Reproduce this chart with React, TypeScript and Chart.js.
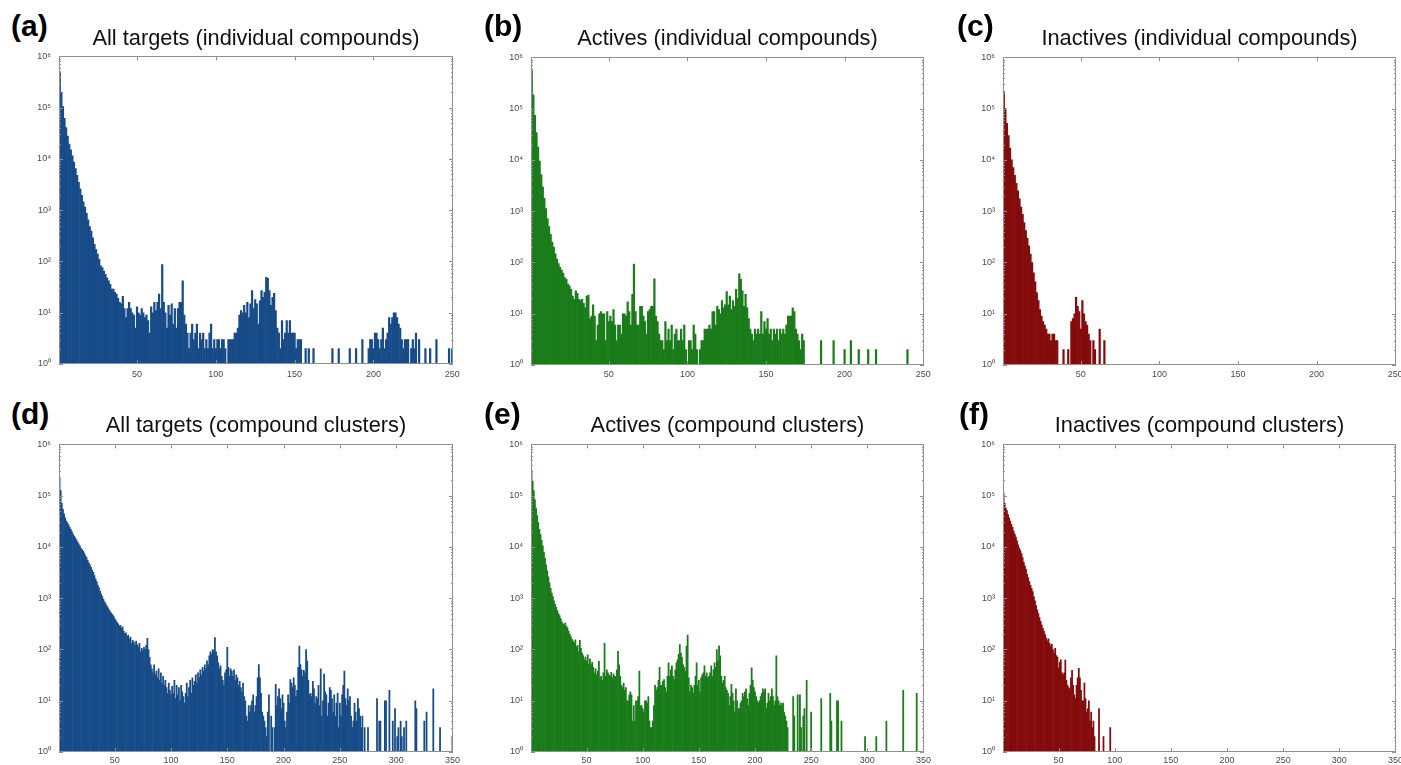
import React, { useEffect, useRef } from 'react';
import { Chart, registerables } from 'chart.js';

Chart.register(...registerables);

// ---------------- DATA (counts per integer bin, starting at bin 1) ----------------
const allIndividual = [
  500000, 200000, 105000, 62000, 41000, 28000, 19500, 15000, 11500, 8700,
  6500, 4800, 3500, 2600, 1950, 1450, 1150, 870, 650, 480,
  390, 290, 215, 170, 140, 110, 82, 76, 65, 56,
  48, 42, 36, 29, 29, 25, 23, 19, 16, 15,
  21, 12, 8, 12, 16, 12, 10, 9, 5, 13,
  10, 9, 12, 10, 8, 9, 7, 4, 13, 10,
  16, 11, 16, 23, 12, 87, 16, 10, 5, 14,
  9, 15, 6, 12, 5, 12, 16, 16, 42, 9,
  6, 4, 2, 4, 6, 3, 4, 6, 2, 4,
  3, 4, 2, 3, 2, 4, 6, 2, 3, 2,
  3, 3, 2, 3, 3, 2, 1, 3, 3, 3,
  3, 4, 4, 5, 9, 11, 10, 14, 10, 16,
  8, 15, 27, 12, 18, 15, 6, 17, 27, 20,
  25, 49, 47, 27, 14, 20, 24, 11, 5, 4,
  2, 7, 3, 4, 7, 4, 7, 4, 4, 4,
  2, 3, 3, 3, 0, 0, 2, 0, 2, 0,
  0, 2, 0, 0, 0, 0, 0, 0, 0, 0,
  0, 0, 0, 2, 0, 0, 0, 2, 0, 0,
  0, 0, 0, 0, 2, 0, 0, 0, 2, 0,
  0, 0, 3, 0, 0, 0, 2, 3, 3, 2,
  4, 4, 3, 2, 3, 5, 2, 3, 4, 8,
  6, 8, 10, 10, 8, 6, 5, 3, 2, 3,
  3, 3, 0, 2, 3, 2, 4, 0, 3, 0,
  0, 0, 2, 0, 0, 2, 0, 0, 0, 3,
  0, 0, 0, 0, 0, 0, 0, 2, 0, 2,
];

const activesIndividual = [
  550000, 186000, 74000, 34000, 17800, 9500, 5200, 2950, 1780, 1120,
  720, 500, 355, 250, 200, 148, 117, 95, 80, 71,
  62, 51, 47, 38, 35, 30, 22, 19, 28, 25,
  19, 18, 19, 16, 13, 22, 23, 8, 9, 15,
  9, 3, 6, 10, 11, 10, 10, 3, 11, 7,
  9, 7, 12, 6, 3, 6, 6, 4, 10, 10,
  9, 17, 11, 6, 24, 93, 11, 6, 6, 14,
  14, 9, 7, 4, 11, 12, 14, 14, 48, 9,
  7, 4, 3, 3, 2, 7, 3, 5, 3, 6,
  2, 4, 5, 3, 3, 5, 3, 6, 2, 1,
  3, 3, 2, 6, 4, 2, 1, 2, 3, 3,
  5, 5, 5, 6, 5, 11, 11, 6, 14, 12,
  10, 18, 13, 15, 27, 15, 22, 12, 18, 14,
  30, 20, 60, 47, 28, 14, 24, 13, 8, 5,
  4, 3, 5, 4, 5, 4, 11, 4, 7, 5,
  8, 4, 5, 3, 5, 4, 5, 3, 5, 4,
  5, 4, 6, 9, 9, 9, 13, 11, 5, 4,
  3, 2, 4, 3, 0, 0, 0, 0, 0, 0,
  0, 0, 0, 0, 3, 0, 0, 0, 0, 0,
  0, 0, 3, 0, 0, 0, 0, 0, 0, 2,
  0, 0, 0, 3, 0, 0, 0, 0, 2, 0,
  0, 0, 0, 0, 2, 0, 0, 0, 0, 2,
  0, 0, 0, 0, 0, 0, 0, 0, 0, 0,
  0, 0, 0, 0, 0, 0, 0, 0, 0, 2,
  0, 0, 0, 0, 0, 0, 0, 0, 0, 0,
];

const inactivesIndividual = [
  214000, 100000, 52000, 30000, 17000, 10000, 7100, 5000, 3500, 2500,
  1740, 1200, 870, 600, 420, 295, 210, 145, 100, 63,
  42, 26, 18, 12, 9, 7, 6, 5, 4, 4,
  3, 4, 4, 3, 3, 0, 0, 0, 2, 0,
  0, 2, 0, 7, 8, 10, 21, 14, 11, 5,
  18, 10, 7, 6, 4, 3, 0, 3, 2, 0,
  0, 5, 0, 0, 3,
];

const allClusters = [
  230000, 126000, 71000, 54000, 44000, 37000, 32000, 29500, 27000, 24000,
  22000, 20000, 17800, 16200, 15100, 13800, 12600, 11500, 10500, 9500,
  8900, 8300, 7600, 6800, 6200, 5500, 4900, 4500, 4000, 3550,
  3200, 2750, 2400, 2100, 1800, 1600, 1380, 1200, 1070, 950,
  850, 780, 710, 650, 590, 550, 510, 480, 450, 400,
  370, 340, 315, 290, 295, 265, 275, 225, 200, 210,
  180, 190, 160, 175, 130, 150, 140, 120, 145, 125,
  112, 132, 90, 105, 95, 110, 100, 120, 165, 100,
  70, 50, 42, 35, 50, 32, 38, 28, 42, 25,
  35, 22, 30, 20, 25, 18, 14, 22, 16, 13,
  19, 14, 25, 11, 20, 13, 18, 10, 20, 15,
  12, 9, 14, 22, 12, 18, 25, 14, 28, 20,
  24, 32, 22, 35, 28, 40, 32, 45, 38, 50,
  42, 60, 50, 75, 90, 80, 100, 95, 170, 90,
  75, 55, 42, 48, 30, 25, 20, 35, 40, 110,
  45, 30, 42, 38, 30, 40, 25, 32, 28, 20,
  24, 18, 15, 22, 12, 10, 5, 4, 8, 6,
  8, 10, 13, 6, 8, 12, 28, 51, 28, 14,
  6, 5, 4, 3, 2, 6, 13, 0, 5, 3,
  0, 3, 21, 8, 12, 17, 11, 7, 13, 9,
  4, 3, 6, 13, 9, 26, 22, 18, 28, 20,
  12, 16, 45, 117, 51, 40, 30, 39, 35, 100,
  60, 25, 13, 14, 12, 24, 17, 9, 12, 11,
  20, 8, 42, 5, 10, 33, 15, 13, 5, 9,
  18, 16, 11, 6, 13, 5, 9, 14, 3, 9,
  5, 13, 20, 38, 11, 8, 17, 10, 12, 5,
  3, 4, 9, 6, 4, 11, 7, 5, 3, 5,
  0, 3, 0, 0, 3, 0, 0, 0, 0, 0,
  0, 0, 11, 0, 4, 4, 0, 0, 0, 10,
  10, 0, 0, 16, 0, 0, 4, 0, 7, 0,
  2, 3, 0, 4, 2, 0, 3, 0, 4, 0,
  0, 0, 0, 0, 0, 0, 10, 7, 0, 0,
  0, 0, 0, 0, 4, 0, 6, 0, 0, 0,
  0, 0, 17, 0, 0, 0, 0, 0, 3, 0,
  0, 0, 0, 0, 0, 0, 0, 0, 0, 2,
];

const activesClusters = [
  310000, 190000, 126000, 83000, 57000, 41000, 30000, 22000, 17400, 13500,
  10500, 7900, 6000, 4500, 3400, 2600, 2000, 1550, 1260, 1070,
  890, 760, 660, 575, 500, 457, 400, 347, 316, 302,
  331, 282, 263, 229, 200, 178, 158, 145, 132, 155,
  112, 120, 91, 151, 105, 85, 76, 63, 71, 60,
  79, 52, 66, 50, 56, 45, 35, 42, 32, 38,
  59, 28, 30, 25, 35, 132, 30, 40, 35, 32,
  30, 36, 28, 33, 30, 30, 40, 92, 50, 30,
  20, 18, 22, 16, 18, 10, 10, 13, 15, 13,
  4, 8, 4, 10, 10, 12, 38, 8, 8, 7,
  6, 10, 10, 9, 12, 4, 3, 3, 4, 8,
  20, 16, 18, 25, 45, 20, 20, 24, 26, 18,
  15, 30, 55, 30, 40, 48, 30, 26, 40, 55,
  63, 80, 125, 85, 70, 50, 45, 38, 115, 190,
  28, 15, 20, 18, 14, 20, 30, 55, 20, 25,
  15, 28, 32, 35, 48, 30, 35, 28, 30, 35,
  48, 30, 40, 55, 45, 100, 60, 118, 75, 30,
  22, 25, 30, 18, 16, 14, 8, 12, 21, 14,
  10, 6, 17, 10, 7, 7, 9, 10, 14, 12,
  15, 17, 11, 8, 14, 20, 44, 25, 18, 15,
  12, 10, 9, 10, 12, 14, 17, 15, 17, 7,
  9, 14, 10, 12, 17, 12, 8, 10, 75, 12,
  10, 8, 9, 8, 9, 6, 5, 4, 3, 0,
  0, 0, 0, 12, 5, 0, 0, 13, 0, 13,
  3, 0, 5, 7, 0, 25, 0, 0, 0, 6,
  0, 0, 0, 0, 0, 0, 0, 0, 11, 0,
  0, 0, 0, 0, 0, 0, 14, 4, 0, 0,
  0, 0, 10, 10, 0, 0, 4, 0, 0, 0,
  0, 0, 0, 0, 0, 0, 0, 0, 0, 0,
  0, 0, 0, 0, 0, 0, 0, 2, 0, 0,
  0, 0, 0, 0, 0, 0, 0, 2, 0, 0,
  0, 0, 0, 0, 0, 0, 4, 0, 0, 0,
  0, 0, 0, 0, 0, 0, 0, 0, 0, 0,
  0, 16, 0, 0, 0, 0, 0, 0, 0, 0,
  0, 0, 0, 14, 0, 0, 0, 0, 0, 0,
];

const inactivesClusters = [
  112000, 71000, 57000, 51000, 43000, 37000, 32000, 27500, 24000, 20400,
  17800, 15500, 13200, 11000, 9500, 8500, 7400, 6200, 5000, 4300,
  3700, 2950, 2500, 2100, 1780, 1550, 1350, 1070, 890, 720,
  590, 500, 417, 355, 302, 257, 229, 195, 166, 148,
  162, 132, 117, 126, 100, 85, 105, 76, 71, 44,
  56, 63, 35, 32, 35, 62, 25, 20, 18, 17,
  28, 39, 20, 13, 11, 20, 28, 43, 28, 16,
  10, 10, 22, 11, 6, 7, 10, 4, 6, 3,
  4, 2, 0, 0, 0, 7, 0, 0, 0, 2,
  0, 0, 0, 0, 0, 3, 0,
];

const Y_TICKS = [1, 10, 100, 1000, 10000, 100000, 1000000];
const X_TICKS_INDIVIDUAL = [50, 100, 150, 200, 250];
const X_TICKS_CLUSTERS = [50, 100, 150, 200, 250, 300, 350];
const SUPERSCRIPTS = ['⁰', '¹', '²', '³', '⁴', '⁵', '⁶'];

// ---------------- STYLE / LAYOUT ----------------
const FONT = "'Liberation Sans', Arial, Helvetica, sans-serif";
const BLUE = '#184c88';
const GREEN = '#1a7c1a';
const RED = '#850c0c';
const AXIS_COLOR = '#8f8f8f';
const Y_AXIS_W = 45;
const X_AXIS_H = 22;
const PAD_T = 10;
const PAD_R = 14;

type Box = { left: number; top: number; right: number; bottom: number };
type PanelDef = {
  id: string;
  label: string;
  title: string;
  counts: number[];
  color: string;
  xMax: number;
  xTicks: number[];
  box: Box;
  labelX: number;
  labelBaseline: number;
  titleBaseline: number;
  xLabelPad: number;
};

const ROW1 = { top: 53, bottom: 364, label: 36, title: 45.5, pad: 5 };
const ROW2 = { top: 441, bottom: 752, label: 424, title: 432, pad: 3 };

const PANELS: PanelDef[] = [
  { id: 'a', label: '(a)', title: 'All targets (individual compounds)', counts: allIndividual, color: BLUE, xMax: 250, xTicks: X_TICKS_INDIVIDUAL,
    box: { left: 59, top: ROW1.top, right: 453, bottom: ROW1.bottom }, labelX: 11, labelBaseline: ROW1.label, titleBaseline: ROW1.title, xLabelPad: ROW1.pad },
  { id: 'b', label: '(b)', title: 'Actives (individual compounds)', counts: activesIndividual, color: GREEN, xMax: 250, xTicks: X_TICKS_INDIVIDUAL,
    box: { left: 531, top: ROW1.top + 1, right: 924, bottom: ROW1.bottom + 1 }, labelX: 484, labelBaseline: ROW1.label, titleBaseline: ROW1.title, xLabelPad: ROW1.pad - 1 },
  { id: 'c', label: '(c)', title: 'Inactives (individual compounds)', counts: inactivesIndividual, color: RED, xMax: 250, xTicks: X_TICKS_INDIVIDUAL,
    box: { left: 1003, top: ROW1.top + 1, right: 1396, bottom: ROW1.bottom + 1 }, labelX: 957, labelBaseline: ROW1.label, titleBaseline: ROW1.title, xLabelPad: ROW1.pad - 1 },
  { id: 'd', label: '(d)', title: 'All targets (compound clusters)', counts: allClusters, color: BLUE, xMax: 350, xTicks: X_TICKS_CLUSTERS,
    box: { left: 59, top: ROW2.top, right: 453, bottom: ROW2.bottom }, labelX: 11, labelBaseline: ROW2.label, titleBaseline: ROW2.title, xLabelPad: ROW2.pad },
  { id: 'e', label: '(e)', title: 'Actives (compound clusters)', counts: activesClusters, color: GREEN, xMax: 350, xTicks: X_TICKS_CLUSTERS,
    box: { left: 531, top: ROW2.top, right: 924, bottom: ROW2.bottom }, labelX: 484, labelBaseline: ROW2.label, titleBaseline: ROW2.title, xLabelPad: ROW2.pad },
  { id: 'f', label: '(f)', title: 'Inactives (compound clusters)', counts: inactivesClusters, color: RED, xMax: 350, xTicks: X_TICKS_CLUSTERS,
    box: { left: 1003, top: ROW2.top, right: 1396, bottom: ROW2.bottom }, labelX: 959, labelBaseline: ROW2.label, titleBaseline: ROW2.title, xLabelPad: ROW2.pad },
];

// Draws the MATLAB-like box with inward ticks on all four sides.
const framePlugin = {
  id: 'matlabFrame',
  afterDatasetsDraw(chart: any) {
    const { ctx, chartArea: a, scales } = chart;
    const xs = scales.x;
    const ys = scales.y;
    ctx.save();
    ctx.strokeStyle = AXIS_COLOR;
    ctx.lineWidth = 1;
    ctx.beginPath();
    for (const t of xs.ticks) {
      const px = Math.round(xs.getPixelForValue(t.value)) + 0.5;
      if (px < a.left || px > a.right) continue;
      ctx.moveTo(px, a.bottom);
      ctx.lineTo(px, a.bottom - 4);
      ctx.moveTo(px, a.top);
      ctx.lineTo(px, a.top + 4);
    }
    for (let k = 0; k <= 6; k++) {
      for (let m = 1; m <= 9; m++) {
        if (k === 6 && m > 1) break;
        const v = m * Math.pow(10, k);
        const py = Math.round(ys.getPixelForValue(v)) + 0.5;
        const len = m === 1 ? 4 : 2;
        ctx.moveTo(a.left, py);
        ctx.lineTo(a.left + len, py);
        ctx.moveTo(a.right, py);
        ctx.lineTo(a.right - len, py);
      }
    }
    ctx.stroke();
    ctx.strokeRect(Math.round(a.left) + 0.5, Math.round(a.top) + 0.5,
      Math.round(a.right - a.left) - 1, Math.round(a.bottom - a.top) - 1);
    ctx.restore();
  },
};

function Panel({ p }: { p: PanelDef }) {
  const ref = useRef<HTMLCanvasElement | null>(null);
  const plotW = p.box.right - p.box.left;
  const plotH = p.box.bottom - p.box.top;
  const cw = Y_AXIS_W + plotW + PAD_R;
  const chH = PAD_T + plotH + X_AXIS_H;

  useEffect(() => {
    const canvas = ref.current;
    if (!canvas) return;
    const data = p.counts.map((v, i) => ({ x: i + 1, y: v > 0 ? v : null }));
    const chart = new Chart(canvas, {
      type: 'bar',
      data: {
        datasets: [{
          data: data as any,
          backgroundColor: p.color,
          borderWidth: 0,
          barPercentage: 1,
          categoryPercentage: 1,
        }],
      },
      options: {
        responsive: false,
        animation: false,
        devicePixelRatio: 1,
        layout: { padding: { top: PAD_T, right: PAD_R, left: 0, bottom: 0 } },
        plugins: { legend: { display: false }, tooltip: { enabled: false }, title: { display: false } },
        scales: {
          x: {
            type: 'linear',
            min: 0.5,
            max: p.xMax + 0.5,
            offset: false,
            grid: { display: false, drawTicks: false },
            border: { display: false },
            afterBuildTicks: (s: any) => { s.ticks = p.xTicks.map((v) => ({ value: v })); },
            afterFit: (s: any) => { s.height = X_AXIS_H; },
            ticks: {
              font: { size: 9, family: FONT },
              color: '#4a4a4a',
              padding: p.xLabelPad,
              maxRotation: 0,
              autoSkip: false,
              callback: (v: any) => String(v),
            },
          },
          y: {
            type: 'logarithmic',
            min: 1,
            max: 1000000,
            grid: { display: false, drawTicks: false },
            border: { display: false },
            afterBuildTicks: (s: any) => { s.ticks = Y_TICKS.map((v) => ({ value: v })); },
            afterFit: (s: any) => { s.width = Y_AXIS_W; },
            ticks: {
              font: { size: 9, family: FONT },
              color: '#4a4a4a',
              padding: 8,
              autoSkip: false,
              callback: (v: any) => '10' + SUPERSCRIPTS[Math.round(Math.log10(Number(v)))],
            },
          },
        },
      } as any,
      plugins: [framePlugin],
    });
    return () => chart.destroy();
  }, []);

  const titleSize = 21.8;
  const labelSize = 30;
  return (
    <>
      <canvas
        ref={ref}
        width={cw}
        height={chH}
        style={{ position: 'absolute', left: p.box.left - Y_AXIS_W, top: p.box.top - PAD_T, width: cw, height: chH }}
      />
      <div
        style={{
          position: 'absolute', left: p.labelX, top: p.labelBaseline - 0.8465 * labelSize,
          fontFamily: FONT, fontWeight: 700, fontSize: labelSize, lineHeight: `${labelSize}px`, color: '#000', whiteSpace: 'nowrap',
        }}
      >{p.label}</div>
      <div
        style={{
          position: 'absolute', left: p.box.left, width: plotW, textAlign: 'center',
          top: p.titleBaseline - 0.8465 * titleSize,
          fontFamily: FONT, fontSize: titleSize, lineHeight: `${titleSize}px`, color: '#111', whiteSpace: 'nowrap',
        }}
      >{p.title}</div>
    </>
  );
}

export default function App() {
  return (
    <div style={{ position: 'absolute', left: 0, top: 0, width: 1401, height: 765, overflow: 'hidden', background: '#fff' }}>
      {PANELS.map((p) => <Panel key={p.id} p={p} />)}
    </div>
  );
}
